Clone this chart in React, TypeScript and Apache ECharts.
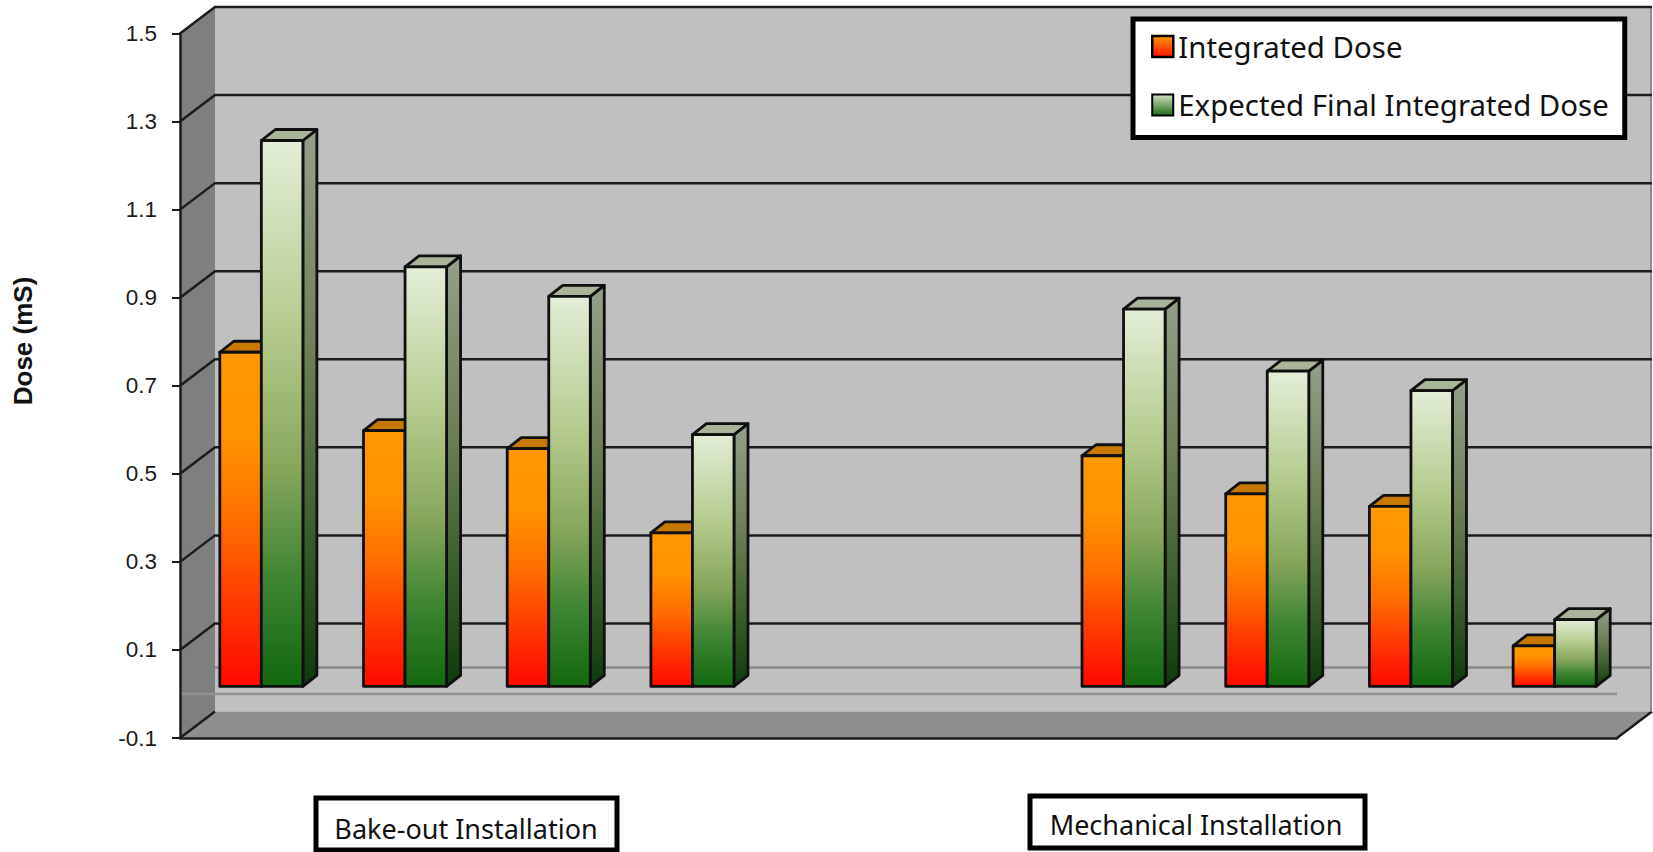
import React, { useEffect, useRef } from "react";
import * as echarts from "echarts";

const categories = ["B1", "B2", "B3", "B4", "", " ", "M1", "M2", "M3", "M4"];
const integratedDose: (number | null)[] = [0.759, 0.581, 0.54, 0.349, null, null, 0.524, 0.4375, 0.409, 0.092];
const expectedDose: (number | null)[] = [1.24, 0.953, 0.886, 0.572, null, null, 0.857, 0.716, 0.672, 0.152];
const yTicks = [-0.1, 0.1, 0.3, 0.5, 0.7, 0.9, 1.1, 1.3, 1.5];

// Oblique depth of the chart box, and of the bars inside it.
const BOX_DX = 35;
const BOX_DY = -26.5;
const BAR_SHIFT_X = 9.5;
const BAR_SHIFT_Y = -7.5;
const BAR_DX = 14;
const BAR_DY = -11;
const BAR_BAND = 0.289;
const LINE = "#1c1c1c";
const EDGE = "#101010";

const grad = (stops: [number, string][]) =>
  new echarts.graphic.LinearGradient(0, 0, 0, 1, stops.map(([offset, color]) => ({ offset, color })));

const orangeFront = () => grad([[0, "#ff9900"], [0.25, "#ff9400"], [0.5, "#ff7000"], [0.75, "#ff3a00"], [1, "#ff0800"]]);
const greenFront = () => grad([[0, "#e3eed8"], [0.35, "#b4ca8c"], [0.6, "#87a65c"], [0.8, "#3f8534"], [1, "#12680f"]]);
const orangeSide = () => grad([[0, "#c87800"], [1, "#a02000"]]);
const greenSide = () => grad([[0, "#949f8a"], [0.4, "#6e7f58"], [0.7, "#3f6030"], [1, "#0f3a0c"]]);

const renderBar = (slot: number, front: () => any, side: () => any, cap: string) => (_: any, api: any) => {
  const idx = api.value(0);
  const val = api.value(1);
  const band = api.size([1, 0])[0];
  const w = band * BAR_BAND;
  const center = api.coord([idx, 0]);
  const topPt = api.coord([idx, val]);
  const x = center[0] + BAR_SHIFT_X + slot * w;
  const yBase = center[1] + BAR_SHIFT_Y;
  const yTop = topPt[1] + BAR_SHIFT_Y;
  const edge = { stroke: EDGE, lineWidth: 2.8, lineJoin: "round" };
  return {
    type: "group",
    children: [
      {
        type: "polygon",
        shape: { points: [[x + w, yTop], [x + w + BAR_DX, yTop + BAR_DY], [x + w + BAR_DX, yBase + BAR_DY], [x + w, yBase]] },
        style: { fill: side(), ...edge },
      },
      {
        type: "polygon",
        shape: { points: [[x, yTop], [x + BAR_DX, yTop + BAR_DY], [x + w + BAR_DX, yTop + BAR_DY], [x + w, yTop]] },
        style: { fill: cap, ...edge },
      },
      {
        type: "rect",
        shape: { x, y: yTop, width: w, height: yBase - yTop },
        style: { fill: front(), ...edge },
      },
    ],
  };
};

export default function App() {
  const ref = useRef<HTMLDivElement>(null);

  useEffect(() => {
    document.body.style.margin = "0";
    const chart = echarts.init(ref.current!, undefined, { renderer: "svg" });

    const renderWalls = (params: any, api: any) => {
      const { x, y, width, height } = params.coordSys;
      const xr = x + width;
      const yb = y + height;
      const zy = api.coord([0, 0])[1];
      const left = x;
      return {
        type: "group",
        children: [
          {
            type: "rect",
            shape: { x: left + BOX_DX, y: y + BOX_DY, width, height },
            style: { fill: "#c0c0c0" },
          },
          {
            type: "polygon",
            shape: { points: [[left, y], [left + BOX_DX, y + BOX_DY], [left + BOX_DX, yb + BOX_DY], [left, yb]] },
            style: { fill: "#7f7f7f" },
          },
          {
            type: "polygon",
            shape: { points: [[left, yb], [left + BOX_DX, yb + BOX_DY], [xr + BOX_DX, yb + BOX_DY], [xr, yb]] },
            style: { fill: "#8f8f8f" },
          },
          {
            type: "line",
            shape: { x1: left, y1: yb, x2: left + BOX_DX, y2: yb + BOX_DY },
            style: { stroke: LINE, lineWidth: 2.5 },
          },
          {
            type: "line",
            shape: { x1: xr, y1: yb, x2: xr + BOX_DX, y2: yb + BOX_DY },
            style: { stroke: LINE, lineWidth: 2.5 },
          },
          {
            type: "line",
            shape: { x1: xr + BOX_DX - 1, y1: y + BOX_DY, x2: xr + BOX_DX - 1, y2: yb + BOX_DY },
            style: { stroke: "#8c8c8c", lineWidth: 2 },
          },
          // Zero plane, seen on the back wall and again at the front of the box.
          {
            type: "line",
            shape: { x1: left + BOX_DX, y1: zy + BOX_DY, x2: xr + BOX_DX, y2: zy + BOX_DY },
            style: { stroke: "#8a8a8a", lineWidth: 2.5 },
          },
          {
            type: "line",
            shape: { x1: left, y1: zy, x2: xr, y2: zy },
            style: { stroke: "#929292", lineWidth: 2.5 },
          },
        ],
      };
    };

    const renderGridline = (params: any, api: any) => {
      const { x, width } = params.coordSys;
      const y = api.coord([0, api.value(1)])[1];
      if (api.value(1) < 0) return { type: "group", children: [] };
      return {
        type: "polyline",
        shape: { points: [[x, y], [x + BOX_DX, y + BOX_DY], [x + width + BOX_DX, y + BOX_DY]] },
        style: { fill: "none", stroke: LINE, lineWidth: 2.5 },
      };
    };

    chart.setOption({
      animation: false,
      tooltip: { show: false },
      grid: { left: 180, right: 36, top: 33.5, bottom: 114, containLabel: false },
      legend: {
        orient: "vertical",
        left: 1133,
        top: 19,
        padding: [13, 16, 18, 18],
        itemWidth: 21,
        itemHeight: 21,
        itemGap: 29.5,
        backgroundColor: "#ffffff",
        borderColor: "#000000",
        borderWidth: 5,
        selectedMode: false,
        z: 10,
        textStyle: { fontFamily: "Noto Sans", fontSize: 29.4, color: "#111111" },
        data: [
          { name: "Integrated Dose", icon: "rect", itemStyle: { color: grad([[0, "#ff9900"], [1, "#ff1000"]]), borderColor: "#000", borderWidth: 2.5 } },
          { name: "Expected Final Integrated Dose", icon: "rect", itemStyle: { color: grad([[0, "#d5e2c2"], [1, "#1f6a18"]]), borderColor: "#000", borderWidth: 2 } },
        ],
      },
      xAxis: {
        type: "category",
        data: categories,
        z: 3,
        axisLine: { onZero: false, lineStyle: { color: LINE, width: 2.5 } },
        axisTick: { show: false },
        axisLabel: { show: false },
        splitLine: { show: false },
      },
      yAxis: {
        type: "value",
        min: -0.1,
        max: 1.5,
        z: 3,
        axisLine: { show: true, onZero: false, lineStyle: { color: LINE, width: 2.5 } },
        axisTick: { show: true, length: 8, customValues: yTicks, lineStyle: { color: LINE, width: 2 } },
        axisLabel: {
          customValues: yTicks,
          margin: 23,
          fontFamily: "Liberation Sans",
          fontSize: 22.5,
          color: "#1a1a1a",
        },
        splitLine: { show: false },
      },
      graphic: [
        {
          type: "text",
          x: 23,
          y: 341,
          rotation: Math.PI / 2,
          style: {
            text: "Dose (mS)",
            font: "bold 26px 'Liberation Sans'",
            fill: "#111111",
            align: "center",
            verticalAlign: "middle",
          },
        },
        { type: "rect", shape: { x: 316, y: 798, width: 301, height: 52 }, style: { fill: "#fff", stroke: "#000", lineWidth: 5 } },
        {
          type: "text",
          x: 466,
          y: 828,
          style: { text: "Bake-out Installation", font: "27px 'Noto Sans'", fill: "#111", align: "center", verticalAlign: "middle" },
        },
        { type: "rect", shape: { x: 1030, y: 796, width: 335, height: 52 }, style: { fill: "#fff", stroke: "#000", lineWidth: 5 } },
        {
          type: "text",
          x: 1196,
          y: 824,
          style: { text: "Mechanical Installation", font: "27px 'Noto Sans'", fill: "#111", align: "center", verticalAlign: "middle" },
        },
      ],
      series: [
        { type: "custom", name: "box", z: 1, silent: true, renderItem: renderWalls, data: [[0, 0]] },
        { type: "custom", name: "gridlines", z: 2, silent: true, renderItem: renderGridline, data: yTicks.map((t) => [0, t]) },
        {
          type: "custom",
          name: "Integrated Dose",
          z: 5,
          renderItem: renderBar(-1, orangeFront, orangeSide, "#c87a00"),
          data: integratedDose.map((v, i) => [i, v]).filter((d) => d[1] !== null),
        },
        {
          type: "custom",
          name: "Expected Final Integrated Dose",
          z: 6,
          renderItem: renderBar(0, greenFront, greenSide, "#a9b59a"),
          data: expectedDose.map((v, i) => [i, v]).filter((d) => d[1] !== null),
        },
      ],
    });

    return () => chart.dispose();
  }, []);

  return <div ref={ref} style={{ width: 1653, height: 852 }} />;
}
